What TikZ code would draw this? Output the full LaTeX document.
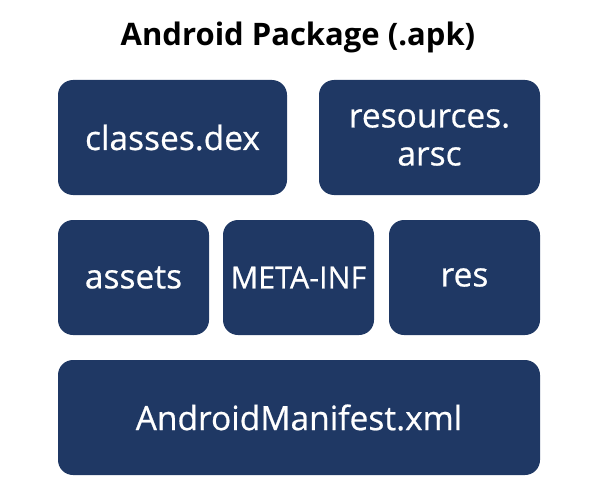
\documentclass[tikz,border=0pt]{standalone}
\usepackage{fontspec}
\setmainfont{Open Sans}
\newfontfamily\boxfont[FakeBold=0.6]{Open Sans}
\definecolor{navy}{HTML}{1F3864}
\begin{document}
\begin{tikzpicture}[x=1pt,y=-1pt,
  pbox/.style={fill=navy,rounded corners=15pt,text=white,font=\boxfont\fontsize{33.5}{38}\selectfont,align=center,inner sep=0pt,minimum height=115pt}]
\useasboundingbox (0,0) rectangle (594,500);
\node[font=\bfseries\fontsize{31}{34}\selectfont] (title) at (298,37) {Android Package (.apk)};
\node[pbox,minimum width=229pt] (dex) at (172.5,137.5) {classes.dex};
\node[pbox,minimum width=221pt] (arsc) at (429.5,137.5) {resources.\\arsc};
\node[pbox,minimum width=151pt] (assets) at (133.5,277.5) {assets};
\node[pbox,minimum width=151pt,font=\boxfont\fontsize{30.5}{34}\selectfont] (meta) at (298.5,277.5) {META-INF};
\node[pbox,minimum width=151pt] (res) at (464.5,277.5) {res};
\node[pbox,minimum width=482pt] (man) at (299,417.5) {AndroidManifest.xml};
\end{tikzpicture}
\end{document}
